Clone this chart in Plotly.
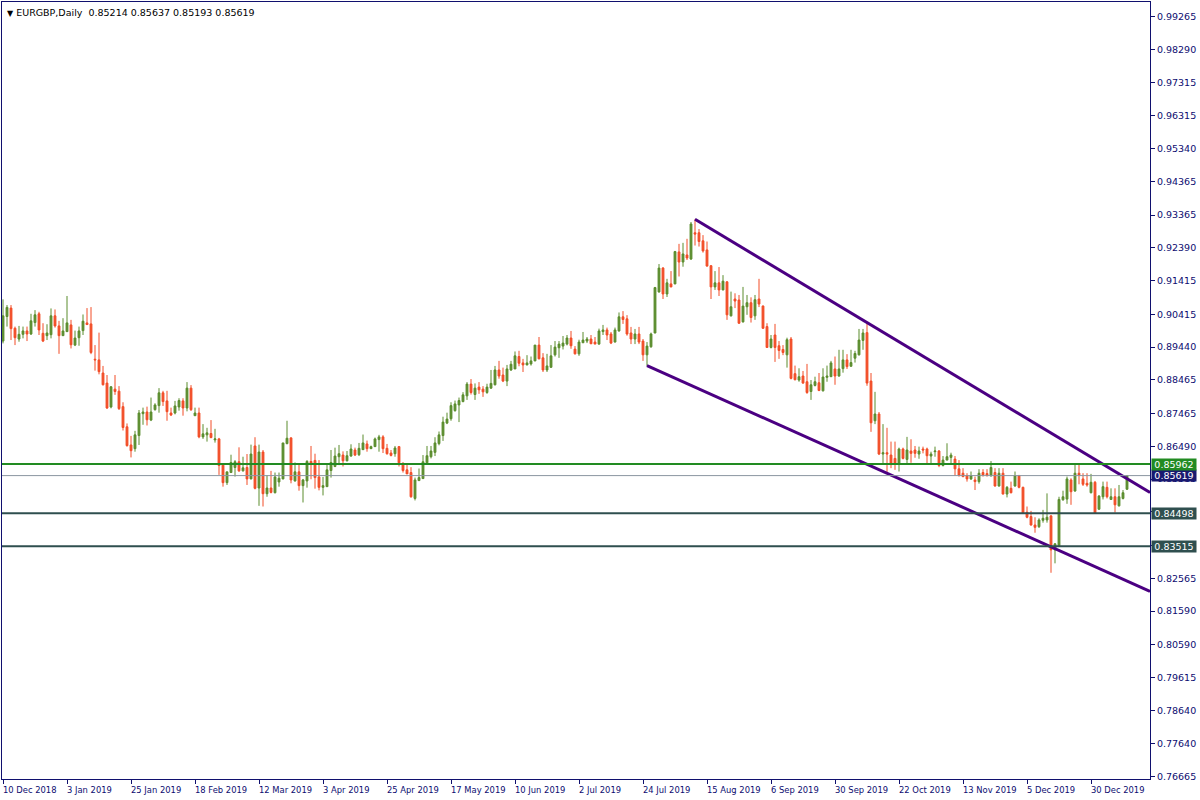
import pandas as pd
import plotly.graph_objects as go

symbol_title = "EURGBP,Daily"

opens = [
    0.8962, 0.9035, 0.9060, 0.9000, 0.8968, 0.8982, 0.8992, 0.8983, 0.9017, 0.9043,
    0.8985, 0.8978, 0.8981, 0.9037, 0.9007, 0.8978, 0.8990, 0.9010, 0.8950, 0.8972,
    0.8993, 0.9016, 0.9013, 0.8908, 0.8906, 0.8867, 0.8837, 0.8766, 0.8819, 0.8813,
    0.8767, 0.8707, 0.8653, 0.8642, 0.8681, 0.8746, 0.8751, 0.8727, 0.8758, 0.8770,
    0.8808, 0.8784, 0.8748, 0.8748, 0.8766, 0.8784, 0.8763, 0.8822, 0.8740, 0.8748,
    0.8677, 0.8683, 0.8687, 0.8668, 0.8671, 0.8593, 0.8541, 0.8571, 0.8586, 0.8603,
    0.8576, 0.8586, 0.8552, 0.8650, 0.8525, 0.8632, 0.8508, 0.8525, 0.8511, 0.8543,
    0.8552, 0.8657, 0.8674, 0.8546, 0.8573, 0.8532, 0.8546, 0.8604, 0.8607, 0.8558,
    0.8527, 0.8529, 0.8577, 0.8589, 0.8618, 0.8623, 0.8606, 0.8620, 0.8638, 0.8624,
    0.8639, 0.8656, 0.8642, 0.8648, 0.8669, 0.8677, 0.8643, 0.8629, 0.8627, 0.8648,
    0.8598, 0.8579, 0.8571, 0.8494, 0.8547, 0.8553, 0.8600, 0.8618, 0.8631, 0.8657,
    0.8681, 0.8718, 0.8731, 0.8755, 0.8772, 0.8782, 0.8799, 0.8834, 0.8803, 0.8825,
    0.8819, 0.8809, 0.8822, 0.8832, 0.8876, 0.8861, 0.8843, 0.8876, 0.8879, 0.8916,
    0.8897, 0.8891, 0.8894, 0.8903, 0.8950, 0.8912, 0.8876, 0.8884, 0.8921, 0.8942,
    0.8947, 0.8953, 0.8971, 0.8938, 0.8924, 0.8957, 0.8962, 0.8968, 0.8959, 0.8953,
    0.8990, 0.8995, 0.8983, 0.8959, 0.8992, 0.9034, 0.9028, 0.8986, 0.8968, 0.8983,
    0.8962, 0.8921, 0.8945, 0.8986, 0.9108, 0.9179, 0.9102, 0.9132, 0.9132, 0.9227,
    0.9197, 0.9218, 0.9206, 0.9284, 0.9284, 0.9260, 0.9233, 0.9186, 0.9123, 0.9135,
    0.9114, 0.9138, 0.9037, 0.9087, 0.9084, 0.9019, 0.9064, 0.9076, 0.9037, 0.9087,
    0.9066, 0.9005, 0.8943, 0.8980, 0.8948, 0.8937, 0.8921, 0.8968, 0.8865, 0.8846,
    0.8858, 0.8841, 0.8812, 0.8830, 0.8838, 0.8814, 0.8854, 0.8856, 0.8879, 0.8858,
    0.8880, 0.8906, 0.8887, 0.8911, 0.8921, 0.8964, 0.8987, 0.8843, 0.8725, 0.8745,
    0.8626, 0.8630, 0.8623, 0.8613, 0.8597, 0.8641, 0.8610, 0.8635, 0.8638, 0.8626,
    0.8641, 0.8641, 0.8620, 0.8633, 0.8635, 0.8592, 0.8608, 0.8616, 0.8611, 0.8582,
    0.8569, 0.8562, 0.8552, 0.8549, 0.8544, 0.8571, 0.8568, 0.8562, 0.8571, 0.8531,
    0.8569, 0.8507, 0.8524, 0.8531, 0.8562, 0.8527, 0.8453, 0.8440, 0.8415, 0.8410,
    0.8429, 0.8430, 0.8442, 0.8341, 0.8353, 0.8490, 0.8492, 0.8549, 0.8516, 0.8569,
    0.8552, 0.8539, 0.8511, 0.8542, 0.8462, 0.8499, 0.8527, 0.8491, 0.8499, 0.8472,
    0.8494, 0.85214,
]

highs = [
    0.9086, 0.9069, 0.9069, 0.9005, 0.9007, 0.9005, 0.9005, 0.9043, 0.9054, 0.9049,
    0.9015, 0.9012, 0.9059, 0.9056, 0.9022, 0.9030, 0.9096, 0.9025, 0.8993, 0.9005,
    0.9041, 0.9060, 0.9063, 0.8950, 0.8987, 0.8888, 0.8861, 0.8828, 0.8861, 0.8828,
    0.8780, 0.8717, 0.8680, 0.8695, 0.8757, 0.8764, 0.8767, 0.8794, 0.8777, 0.8822,
    0.8814, 0.8814, 0.8764, 0.8784, 0.8792, 0.8792, 0.8840, 0.8831, 0.8764, 0.8764,
    0.8715, 0.8704, 0.8727, 0.8701, 0.8674, 0.8599, 0.8573, 0.8624, 0.8608, 0.8646,
    0.8618, 0.8626, 0.8654, 0.8676, 0.8654, 0.8638, 0.8563, 0.8576, 0.8571, 0.8571,
    0.8659, 0.8725, 0.8676, 0.8601, 0.8599, 0.8552, 0.8608, 0.8650, 0.8627, 0.8608,
    0.8558, 0.8599, 0.8638, 0.8645, 0.8653, 0.8634, 0.8635, 0.8655, 0.8645, 0.8659,
    0.8684, 0.8666, 0.8651, 0.8675, 0.8683, 0.8682, 0.8656, 0.8638, 0.8650, 0.8650,
    0.8602, 0.8599, 0.8587, 0.8556, 0.8583, 0.8623, 0.8650, 0.8650, 0.8676, 0.8693,
    0.8737, 0.8749, 0.8780, 0.8785, 0.8794, 0.8810, 0.8840, 0.8849, 0.8836, 0.8840,
    0.8828, 0.8835, 0.8876, 0.8888, 0.8903, 0.8883, 0.8891, 0.8903, 0.8931, 0.8933,
    0.8909, 0.8920, 0.8916, 0.8950, 0.8974, 0.8926, 0.8924, 0.8950, 0.8962, 0.8962,
    0.8977, 0.8980, 0.8992, 0.8947, 0.8966, 0.8989, 0.8974, 0.8980, 0.8974, 0.8999,
    0.9010, 0.9002, 0.8989, 0.9002, 0.9047, 0.9051, 0.9039, 0.9004, 0.8998, 0.9004,
    0.8968, 0.8959, 0.8987, 0.9123, 0.9191, 0.9182, 0.9147, 0.9170, 0.9230, 0.9251,
    0.9254, 0.9266, 0.9316, 0.9324, 0.9295, 0.9277, 0.9258, 0.9188, 0.9170, 0.9182,
    0.9158, 0.9140, 0.9109, 0.9104, 0.9099, 0.9123, 0.9099, 0.9092, 0.9099, 0.9147,
    0.9068, 0.9015, 0.8980, 0.9013, 0.8962, 0.8950, 0.8972, 0.8974, 0.8889, 0.8881,
    0.8873, 0.8894, 0.8846, 0.8856, 0.8867, 0.8881, 0.8889, 0.8903, 0.8916, 0.8936,
    0.8936, 0.8923, 0.8936, 0.8933, 0.8998, 0.8998, 0.9017, 0.8867, 0.8811, 0.8751,
    0.8715, 0.8704, 0.8663, 0.8663, 0.8645, 0.8645, 0.8677, 0.8670, 0.8650, 0.8648,
    0.8648, 0.8645, 0.8633, 0.8648, 0.8638, 0.8620, 0.8658, 0.8630, 0.8620, 0.8608,
    0.8584, 0.8569, 0.8574, 0.8559, 0.8581, 0.8581, 0.8581, 0.8605, 0.8584, 0.8584,
    0.8584, 0.8531, 0.8544, 0.8574, 0.8564, 0.8529, 0.8470, 0.8457, 0.8438, 0.8435,
    0.8460, 0.8509, 0.8445, 0.8361, 0.8499, 0.8517, 0.8559, 0.8554, 0.8596, 0.8596,
    0.8569, 0.8569, 0.8567, 0.8546, 0.8504, 0.8544, 0.8544, 0.8524, 0.8524, 0.8534,
    0.8519, 0.85637,
]

lows = [
    0.8955, 0.9005, 0.8965, 0.8950, 0.8960, 0.8970, 0.8962, 0.8980, 0.9005, 0.8980,
    0.8959, 0.8965, 0.8970, 0.9002, 0.8924, 0.8978, 0.8990, 0.8940, 0.8947, 0.8948,
    0.8980, 0.9010, 0.8923, 0.8874, 0.8863, 0.8830, 0.8760, 0.8762, 0.8802, 0.8757,
    0.8696, 0.8648, 0.8616, 0.8633, 0.8653, 0.8713, 0.8711, 0.8724, 0.8755, 0.8749,
    0.8769, 0.8725, 0.8739, 0.8744, 0.8755, 0.8740, 0.8753, 0.8754, 0.8740, 0.8673,
    0.8671, 0.8663, 0.8673, 0.8660, 0.8564, 0.8529, 0.8534, 0.8571, 0.8559, 0.8573,
    0.8574, 0.8534, 0.8551, 0.8521, 0.8472, 0.8470, 0.8499, 0.8509, 0.8509, 0.8529,
    0.8551, 0.8655, 0.8539, 0.8544, 0.8517, 0.8482, 0.8526, 0.8551, 0.8523, 0.8518,
    0.8503, 0.8529, 0.8556, 0.8587, 0.8593, 0.8589, 0.8604, 0.8618, 0.8620, 0.8620,
    0.8638, 0.8633, 0.8641, 0.8648, 0.8633, 0.8629, 0.8624, 0.8619, 0.8618, 0.8589,
    0.8571, 0.8567, 0.8496, 0.8488, 0.8546, 0.8552, 0.8599, 0.8613, 0.8620, 0.8652,
    0.8665, 0.8715, 0.8725, 0.8752, 0.8721, 0.8780, 0.8787, 0.8803, 0.8787, 0.8805,
    0.8796, 0.8805, 0.8820, 0.8830, 0.8850, 0.8840, 0.8828, 0.8873, 0.8879, 0.8887,
    0.8870, 0.8890, 0.8889, 0.8902, 0.8908, 0.8870, 0.8870, 0.8882, 0.8916, 0.8912,
    0.8937, 0.8949, 0.8939, 0.8922, 0.8918, 0.8956, 0.8956, 0.8953, 0.8953, 0.8951,
    0.8980, 0.8965, 0.8953, 0.8958, 0.8990, 0.9013, 0.8978, 0.8953, 0.8953, 0.8953,
    0.8903, 0.8888, 0.8942, 0.8985, 0.9106, 0.9087, 0.9093, 0.9122, 0.9131, 0.9154,
    0.9183, 0.9203, 0.9203, 0.9246, 0.9243, 0.9225, 0.9183, 0.9087, 0.9114, 0.9096,
    0.9113, 0.9025, 0.9035, 0.9060, 0.9013, 0.9017, 0.9040, 0.9017, 0.9025, 0.9063,
    0.8998, 0.8942, 0.8940, 0.8900, 0.8909, 0.8920, 0.8883, 0.8848, 0.8845, 0.8841,
    0.8835, 0.8805, 0.8787, 0.8827, 0.8813, 0.8812, 0.8841, 0.8855, 0.8832, 0.8856,
    0.8868, 0.8879, 0.8886, 0.8898, 0.8919, 0.8936, 0.8829, 0.8692, 0.8715, 0.8623,
    0.8598, 0.8573, 0.8584, 0.8579, 0.8574, 0.8610, 0.8598, 0.8600, 0.8615, 0.8612,
    0.8628, 0.8597, 0.8598, 0.8618, 0.8587, 0.8589, 0.8608, 0.8598, 0.8561, 0.8559,
    0.8557, 0.8544, 0.8549, 0.8519, 0.8538, 0.8559, 0.8559, 0.8558, 0.8529, 0.8529,
    0.8506, 0.8497, 0.8509, 0.8529, 0.8524, 0.8448, 0.8435, 0.8413, 0.8392, 0.8406,
    0.8422, 0.8422, 0.8273, 0.8301, 0.8351, 0.8487, 0.8478, 0.8475, 0.8514, 0.8536,
    0.8531, 0.8529, 0.8509, 0.8448, 0.8460, 0.8491, 0.8494, 0.8490, 0.8452, 0.8470,
    0.8491, 0.85193,
]

closes = [
    0.9037, 0.9062, 0.8999, 0.8972, 0.8982, 0.8992, 0.8983, 0.9022, 0.9040, 0.8995,
    0.8962, 0.8986, 0.9037, 0.9007, 0.8978, 0.8992, 0.9016, 0.8951, 0.8971, 0.8992,
    0.9021, 0.9011, 0.8928, 0.8906, 0.8871, 0.8832, 0.8763, 0.8826, 0.8812, 0.8761,
    0.8705, 0.8651, 0.8636, 0.8683, 0.8748, 0.8751, 0.8728, 0.8751, 0.8772, 0.8808,
    0.8782, 0.8752, 0.8742, 0.8769, 0.8785, 0.8763, 0.8822, 0.8758, 0.8748, 0.8677,
    0.8686, 0.8689, 0.8675, 0.8671, 0.8592, 0.8541, 0.8573, 0.8601, 0.8603, 0.8576,
    0.8585, 0.8552, 0.8626, 0.8524, 0.8632, 0.8508, 0.8525, 0.8512, 0.8558, 0.8554,
    0.8659, 0.8673, 0.8549, 0.8573, 0.8532, 0.8549, 0.8604, 0.8599, 0.8556, 0.8527,
    0.8532, 0.8579, 0.8601, 0.8620, 0.8627, 0.8606, 0.8621, 0.8641, 0.8623, 0.8643,
    0.8659, 0.8642, 0.8648, 0.8671, 0.8677, 0.8642, 0.8627, 0.8622, 0.8644, 0.8600,
    0.8577, 0.8567, 0.8499, 0.8549, 0.8556, 0.8603, 0.8621, 0.8635, 0.8659, 0.8683,
    0.8721, 0.8730, 0.8770, 0.8775, 0.8785, 0.8802, 0.8834, 0.8809, 0.8822, 0.8817,
    0.8811, 0.8825, 0.8836, 0.8876, 0.8858, 0.8843, 0.8879, 0.8893, 0.8918, 0.8896,
    0.8891, 0.8897, 0.8903, 0.8950, 0.8909, 0.8876, 0.8888, 0.8918, 0.8944, 0.8953,
    0.8956, 0.8971, 0.8948, 0.8924, 0.8959, 0.8965, 0.8968, 0.8954, 0.8953, 0.8992,
    0.8995, 0.8980, 0.8956, 0.8995, 0.9034, 0.9026, 0.8983, 0.8968, 0.8983, 0.8959,
    0.8921, 0.8947, 0.8983, 0.9121, 0.9179, 0.9102, 0.9135, 0.9123, 0.9228, 0.9197,
    0.9221, 0.9209, 0.9310, 0.9280, 0.9258, 0.9230, 0.9185, 0.9123, 0.9135, 0.9114,
    0.9140, 0.9040, 0.9064, 0.9081, 0.9015, 0.9066, 0.9076, 0.9032, 0.9085, 0.9072,
    0.9000, 0.8943, 0.8968, 0.8943, 0.8934, 0.8928, 0.8966, 0.8851, 0.8847, 0.8856,
    0.8837, 0.8809, 0.8832, 0.8841, 0.8815, 0.8855, 0.8858, 0.8897, 0.8858, 0.8879,
    0.8906, 0.8886, 0.8898, 0.8925, 0.8965, 0.8986, 0.8837, 0.8719, 0.8745, 0.8626,
    0.8630, 0.8626, 0.8598, 0.8598, 0.8641, 0.8613, 0.8638, 0.8628, 0.8628, 0.8635,
    0.8638, 0.8621, 0.8626, 0.8635, 0.8592, 0.8608, 0.8618, 0.8623, 0.8582, 0.8562,
    0.8559, 0.8552, 0.8562, 0.8544, 0.8569, 0.8564, 0.8562, 0.8586, 0.8531, 0.8569,
    0.8507, 0.8527, 0.8511, 0.8562, 0.8527, 0.8450, 0.8438, 0.8415, 0.8408, 0.8430,
    0.8435, 0.8438, 0.8341, 0.8359, 0.8491, 0.8499, 0.8552, 0.8514, 0.8569, 0.8564,
    0.8536, 0.8534, 0.8542, 0.8450, 0.8501, 0.8529, 0.8499, 0.8499, 0.8475, 0.8499,
    0.8511, 0.85619,
]

# trading calendar (forex daily bars, no bars on 25 Dec / 1 Jan)
holidays = ["2018-12-25", "2019-01-01", "2019-12-25", "2020-01-01"]
trading_days = [d for d in pd.bdate_range("2018-12-10", "2020-03-31")
                if d.strftime("%Y-%m-%d") not in holidays][:len(opens)]
bar_index = list(range(len(opens)))

date_tick_labels = [
    "10 Dec 2018", "3 Jan 2019", "25 Jan 2019", "18 Feb 2019", "12 Mar 2019",
    "3 Apr 2019", "25 Apr 2019", "17 May 2019", "10 Jun 2019", "2 Jul 2019",
    "24 Jul 2019", "15 Aug 2019", "6 Sep 2019", "30 Sep 2019", "22 Oct 2019",
    "13 Nov 2019", "5 Dec 2019", "30 Dec 2019",
]
date_tick_pos = [trading_days.index(pd.to_datetime(s, format="%d %b %Y")) for s in date_tick_labels]

price_ticks = [
    0.99265, 0.98290, 0.97315, 0.96315, 0.95340, 0.94365, 0.93365, 0.92390,
    0.91415, 0.90415, 0.89440, 0.88465, 0.87465, 0.86490, 0.85515, 0.84540,
    0.83540, 0.82565, 0.81590, 0.80590, 0.79615, 0.78640, 0.77640, 0.76665,
]
# tick labels hidden behind the price-level markers on the axis
hidden_tick_labels = [0.84540, 0.83540]

resistance_level = 0.85962
support_levels = [0.84498, 0.83515]
bid_price = closes[-1]

# channel trend lines: two anchor points each (bar index, price), drawn as rays
upper_anchor_x = [173, 216]
upper_anchor_y = [0.9324, 0.9017]
lower_anchor_x = [161, 262]
lower_anchor_y = [0.8889, 0.8350]

X_MIN, X_MAX = -0.25, 286.75
Y_MIN, Y_MAX = 0.76597, 0.99702

GREEN = "#5a8c2c"
RED = "#f24c26"
NAVY = "#10106e"
TEXT = "#0c0c70"
FONT = "DejaVu Sans"


def ray(xs, ys, x_end):
    slope = (ys[1] - ys[0]) / (xs[1] - xs[0])
    return [xs[0], x_end], [ys[0], ys[0] + slope * (x_end - xs[0])]


fig = go.Figure()
fig.add_trace(go.Candlestick(
    x=bar_index, open=opens, high=highs, low=lows, close=closes,
    increasing=dict(line=dict(color=GREEN, width=1), fillcolor=GREEN),
    decreasing=dict(line=dict(color=RED, width=1), fillcolor=RED),
    whiskerwidth=0, hoverinfo="skip", showlegend=False,
))

for ax, ay in ((upper_anchor_x, upper_anchor_y), (lower_anchor_x, lower_anchor_y)):
    lx, ly = ray(ax, ay, X_MAX)
    fig.add_trace(go.Scatter(x=lx, y=ly, mode="lines",
                             line=dict(color="#4b0082", width=3),
                             hoverinfo="skip", showlegend=False))

shapes = [
    dict(type="line", xref="paper", x0=0, x1=1, yref="y", y0=bid_price, y1=bid_price,
         line=dict(color="#8a95a0", width=1)),
    dict(type="line", xref="paper", x0=0, x1=1, yref="y", y0=resistance_level, y1=resistance_level,
         line=dict(color="#228b22", width=2)),
]
for lv in support_levels:
    shapes.append(dict(type="line", xref="paper", x0=0, x1=1, yref="y", y0=lv, y1=lv,
                       line=dict(color="#2f4f4f", width=2)))

annotations = []
for lv, bg in ([(bid_price, "#191970"), (resistance_level, "#228b22")]
               + [(lv, "#2f4f4f") for lv in support_levels]):
    annotations.append(dict(
        xref="paper", x=1, xanchor="left", xshift=1, yref="y", y=lv, yanchor="middle",
        text=f"{lv:.5f}", showarrow=False, bgcolor=bg, width=44, height=11,
        font=dict(family=FONT, size=9.5, color="white"), borderpad=0,
    ))

for pos, lbl in zip(date_tick_pos, date_tick_labels):
    annotations.append(dict(
        xref="x", x=pos, xanchor="left", xshift=-2, yref="paper", y=0, yanchor="top", yshift=-4,
        text=lbl, showarrow=False, font=dict(family=FONT, size=8.4, color=TEXT),
    ))

annotations.append(dict(
    xref="paper", x=0, xanchor="left", xshift=3, yref="paper", y=1, yanchor="top", yshift=-3,
    text=f"<span style='font-size:8px'>▼</span> {symbol_title}  "
         f"{opens[-1]:.5f} {highs[-1]:.5f} {lows[-1]:.5f} {closes[-1]:.5f}",
    showarrow=False, font=dict(family=FONT, size=9.5, color="#000000"),
))

fig.update_layout(
    width=1200, height=800,
    margin=dict(l=2, r=50, t=2, b=21),
    paper_bgcolor="white", plot_bgcolor="white",
    showlegend=False, boxgap=0.35,
    shapes=shapes, annotations=annotations,
    hovermode=False,
    xaxis=dict(
        range=[X_MIN, X_MAX], rangeslider=dict(visible=False),
        tickmode="array", tickvals=date_tick_pos, ticktext=[""] * len(date_tick_pos),
        ticks="outside", ticklen=4, tickcolor=NAVY, showticklabels=False,
        showgrid=False, zeroline=False, showline=True, linecolor=NAVY, linewidth=1, mirror=True,
    ),
    yaxis=dict(
        range=[Y_MIN, Y_MAX], side="right",
        tickmode="array", tickvals=price_ticks,
        ticktext=["" if v in hidden_tick_labels else f"{v:.5f}" for v in price_ticks],
        ticks="outside", ticklen=4, tickcolor=NAVY,
        tickfont=dict(family=FONT, size=9.5, color=TEXT),
        showgrid=False, zeroline=False, showline=True, linecolor=NAVY, linewidth=1, mirror=True,
    ),
)

fig.write_html("out.html", config={"displayModeBar": False},
               post_script="document.body.style.margin='0';")
